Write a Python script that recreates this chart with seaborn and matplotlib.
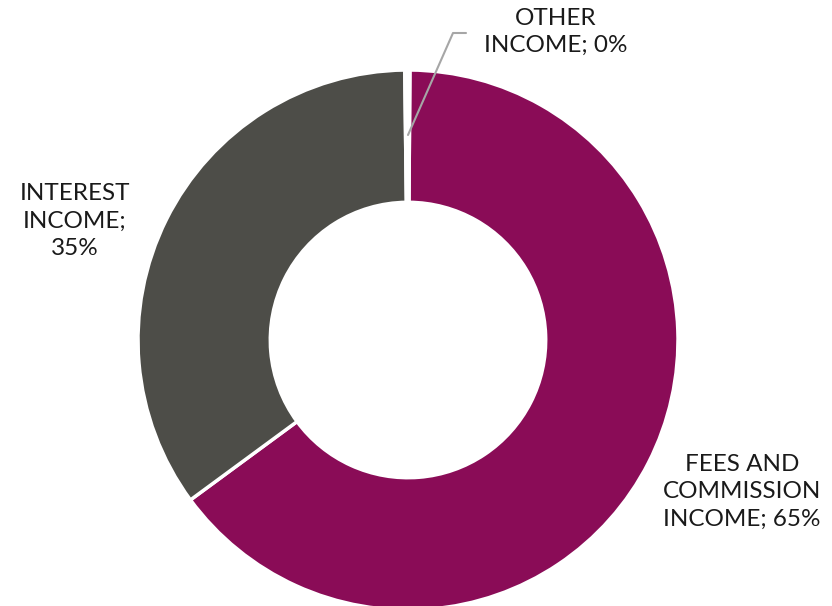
import matplotlib.pyplot as plt
import seaborn as sns

categories = ["FEES AND\nCOMMISSION\nINCOME; 65%", "INTEREST\nINCOME;\n35%", "OTHER\nINCOME; 0%"]
shares = [64.8, 34.9, 0.3]
colors = ["#8A0C57", "#4D4D48", "#FFFFFF"]

sns.set_theme(style="white")
plt.rcParams["font.family"] = ["Lato", "DejaVu Sans"]

fig = plt.figure(figsize=(8.32, 6.06), dpi=100)
ax = fig.add_axes([0, 0, 1, 1])

# donut, center/radius in pixel-ish data coords
cx, cy, r = 408, 606 - 340, 270
wedges, _ = ax.pie(shares, colors=colors, startangle=89.6, counterclock=False,
                   center=(cx, cy), radius=r, frame=True,
                   wedgeprops=dict(width=r * 0.49, edgecolor="white", linewidth=2.5))
ax.set_xlim(0, 832)
ax.set_ylim(0, 606)
ax.set_aspect("equal")
ax.axis("off")

txt = dict(fontsize=17.5, color="#1a1a1a", ha="center", va="center", linespacing=1.36)
ax.text(742, 606 - 492, categories[0], **txt)
ax.text(75, 606 - 221, categories[1], **txt)
ax.text(556, 606 - 32, categories[2], **txt)

# leader line for the tiny slice
ax.plot([408, 453, 466], [606 - 135, 606 - 33, 606 - 33], color="#A6A6A6", lw=1.5)

fig.savefig("out.png", dpi=100)
